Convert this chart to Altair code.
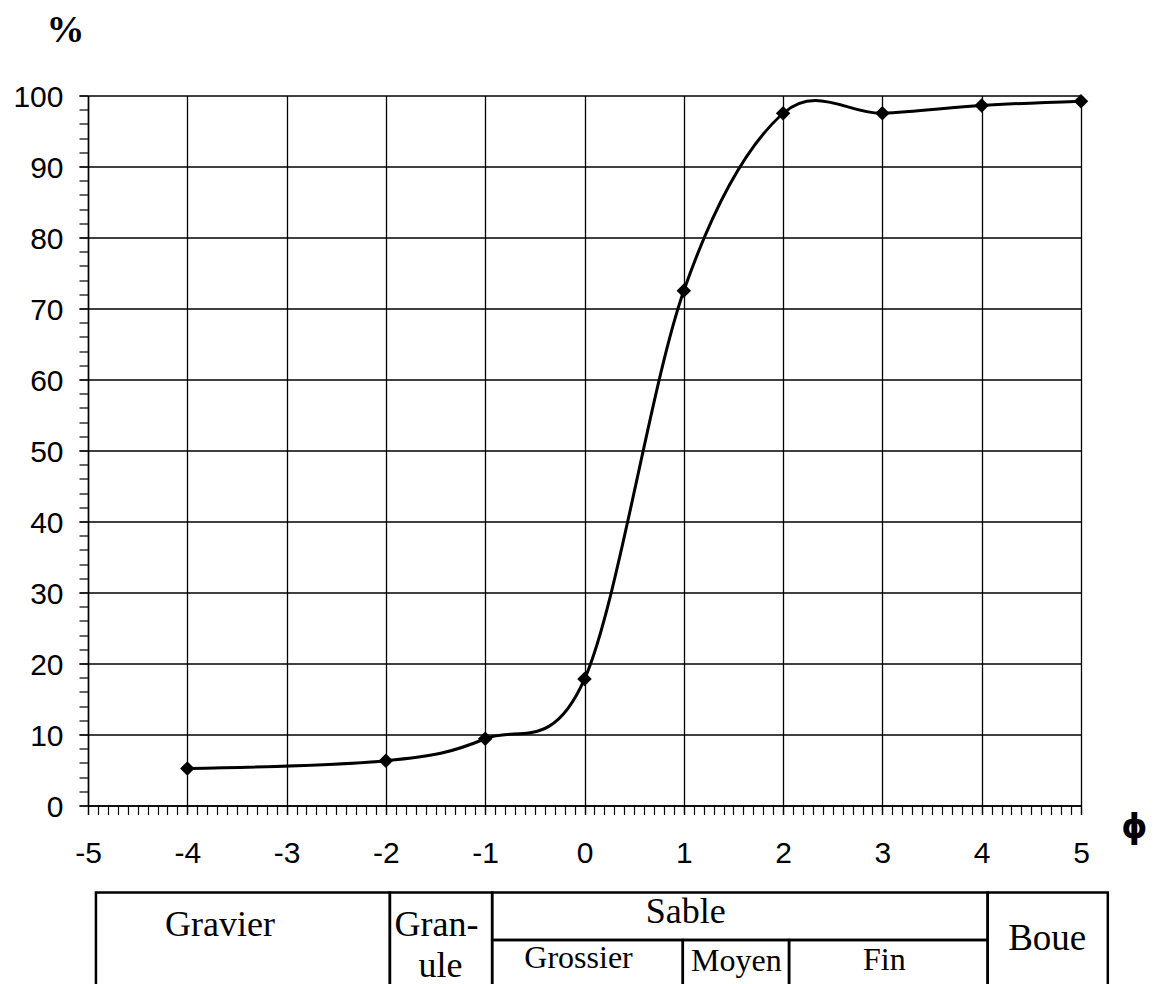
import altair as alt
import numpy as np
import pandas as pd

# ---- data: cumulative grain-size curve ----
phi = [-4, -2, -1, 0, 1, 2, 3, 4, 5]
pct = [5.2, 6.3, 9.4, 17.8, 72.5, 97.5, 97.5, 98.6, 99.2]

# ---- axis ticks ----
x_major = list(range(-5, 6))
x_minor = [round(float(v), 1) for v in np.arange(-5, 5.001, 0.1)]
y_major = list(range(0, 101, 10))
y_minor = list(range(0, 101, 2))

# ---- classification table below the axis (phi class limits) ----
cell_name = ["Gravier", "Granule", "Sable", "Grossier", "Moyen", "Fin", "Boue"]
cell_x0 = [-4.92, -1.96, -0.93, -0.93, 0.99, 2.06, 4.06]
cell_x1 = [-1.96, -0.93, 4.06, 0.99, 2.06, 4.06, 5.27]
cell_top = [-12.25, -12.25, -12.25, -18.95, -18.95, -18.95, -12.25]
cell_bot = [-27.5, -27.5, -18.95, -27.5, -27.5, -27.5, -27.5]

label_text = ["Gravier", "Gran-", "ule", "Sable", "Grossier", "Moyen", "Fin", "Boue"]
label_x = [-3.67, -1.49, -1.45, 1.02, -0.06, 1.53, 3.02, 4.66]
label_y = [-18.45, -18.45, -24.2, -16.5, -22.85, -23.3, -23.1, -20.3]
label_size = [36, 36, 36, 36, 32, 32, 32, 37]

curve = pd.DataFrame({"phi": phi, "pct": pct})
cells = pd.DataFrame({"name": cell_name, "x0": cell_x0, "x1": cell_x1,
                      "top": cell_top, "bot": cell_bot})
labels = pd.DataFrame({"text": label_text, "x": label_x, "y": label_y,
                       "size": label_size})

xscale = alt.Scale(domain=[-5, 5], nice=False, zero=False)
yscale = alt.Scale(domain=[0, 100], nice=False, zero=False)

x_axis = alt.Axis(
    values=x_major, grid=True, gridColor="black", gridWidth=1.3,
    domainColor="black", domainWidth=1.5, tickColor="black", tickSize=9,
    tickWidth=1.3, labelFont="Liberation Sans", labelFontSize=30,
    labelColor="black", labelPadding=24, labelFlush=False, labelOverlap=False,
    labelExpr="datum.value + ''",
    title="ϕ", titleFont="DejaVu Sans", titleFontWeight="bold",
    titleFontSize=33, titleColor="black", titleX=1046, titleY=32,
    titleAlign="center", titleBaseline="alphabetic", orient="bottom",
)
y_axis = alt.Axis(
    values=y_major, grid=True, gridColor="black", gridWidth=1.3,
    domainColor="black", domainWidth=1.5, tickColor="black", tickSize=9,
    tickWidth=1.3, labelFont="Liberation Sans", labelFontSize=30,
    labelColor="black", labelPadding=16, labelOffset=2, labelFlush=False,
    labelOverlap=False, labelExpr="datum.value + ''",
    title="%", titleFont="Liberation Serif", titleFontWeight="bold",
    titleFontSize=38, titleColor="black", titleAngle=0, titleX=-23,
    titleY=-54, titleAlign="center", titleBaseline="alphabetic", orient="left",
)
x_minor_axis = alt.Axis(values=x_minor, grid=False, domain=False, labels=False,
                        tickColor="black", tickSize=9, tickWidth=1.2,
                        title=None, orient="bottom")
y_minor_axis = alt.Axis(values=y_minor, grid=False, domain=False, labels=False,
                        tickColor="black", tickSize=9, tickWidth=1.2,
                        title=None, orient="left")

line = alt.Chart(curve).mark_line(
    interpolate="cardinal", tension=0, color="black", strokeWidth=3
).encode(
    x=alt.X("phi:Q", scale=xscale, axis=x_axis),
    y=alt.Y("pct:Q", scale=yscale, axis=y_axis),
)

minor = alt.Chart(curve).mark_point(opacity=0).encode(
    x=alt.X("phi:Q", scale=xscale, axis=x_minor_axis),
    y=alt.Y("pct:Q", scale=yscale, axis=y_minor_axis),
)

points = alt.Chart(curve).mark_point(
    shape="diamond", filled=True, color="black", size=210, opacity=1
).encode(
    x=alt.X("phi:Q", axis=None),
    y=alt.Y("pct:Q", axis=None),
)

table = alt.Chart(cells).mark_rect(
    fill="white", fillOpacity=0, stroke="black", strokeWidth=2.5
).encode(
    x=alt.X("x0:Q", axis=None), x2="x1",
    y=alt.Y("top:Q", axis=None), y2="bot",
)

table_text = alt.Chart(labels).mark_text(
    font="Liberation Serif", color="black", align="center", baseline="alphabetic"
).encode(
    x=alt.X("x:Q", axis=None), y=alt.Y("y:Q", axis=None), text="text:N",
    size=alt.Size("size:Q", scale=None, legend=None),
)

chart = alt.layer(line, minor, points, table, table_text).resolve_axis(
    x="independent", y="independent"
).properties(
    width=993, height=710,
    autosize=alt.AutoSizeParams(type="none"),
    padding={"left": 80, "top": 87.5, "right": 67, "bottom": 200},
).configure_view(stroke=None)

chart.save("out.html", embed_options={"renderer": "svg", "actions": False})
